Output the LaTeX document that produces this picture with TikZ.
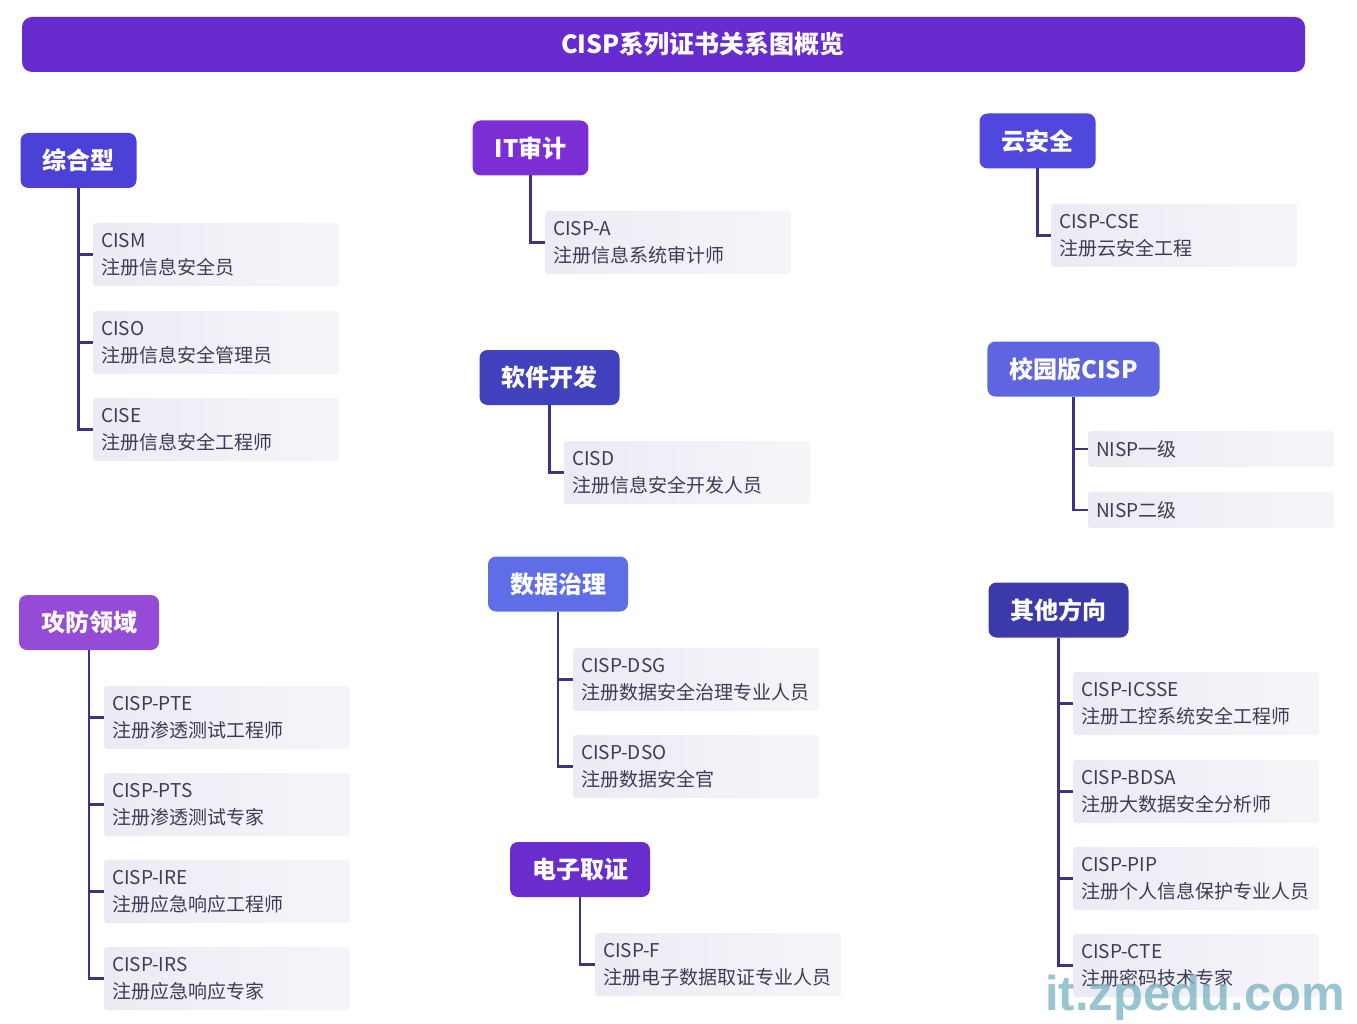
\documentclass[tikz,border=0pt]{standalone}
\usepackage{fontspec}
\setmainfont{Noto Sans CJK SC}
\newfontfamily\markfont{Liberation Sans}
\definecolor{titlebar}{HTML}{672BCF}
\definecolor{catA}{HTML}{4B41D7}
\definecolor{catB}{HTML}{7A2ED4}
\definecolor{catC}{HTML}{5048DC}
\definecolor{catD}{HTML}{4141BE}
\definecolor{catE}{HTML}{5F64E1}
\definecolor{catF}{HTML}{964BD7}
\definecolor{catG}{HTML}{5F6EE6}
\definecolor{catH}{HTML}{692DCD}
\definecolor{catI}{HTML}{3C3AAA}
\definecolor{linkcol}{HTML}{3A3488}
\definecolor{itemtext}{HTML}{3C3C55}
\definecolor{itemleft}{HTML}{ECEBF5}
\definecolor{itemright}{HTML}{F5F5F9}
\definecolor{markcol}{HTML}{7FB5C5}
\tikzset{
  cat/.style={rounded corners=8pt, text=white, font=\fontsize{24}{28}\selectfont\bfseries,
    inner xsep=22pt, minimum height=55pt, outer sep=0pt},
  item/.style={anchor=north west, rounded corners=3pt, left color=itemleft, right color=itemright,
    draw=none, text=itemtext, font=\fontsize{19}{27}\selectfont, align=left,
    minimum width=246pt, text width=230pt, inner xsep=8pt, minimum height=63pt, outer sep=0pt},
  single/.style={item, minimum height=36pt},
  link/.style={draw=linkcol, line width=2.5pt}
}
\begin{document}
\begin{tikzpicture}[x=1pt,y=-1pt]
\useasboundingbox (0,0) rectangle (1357,1024);

% title bar
\node[rounded corners=10pt, fill=titlebar, minimum width=1283pt, minimum height=55pt] (bar) at (663.5,44.5) {};
\node[text=white, font=\fontsize{25}{29}\selectfont\bfseries] (title) at (703,44.5) {CISP系列证书关系图概览};

% categories
\node[cat, fill=catA] (zh) at (78.5,160.5) {综合型};
\node[cat, fill=catB] (it) at (530.5,148) {IT审计};
\node[cat, fill=catC] (yun) at (1037.5,141) {云安全};
\node[cat, fill=catD] (rj) at (549.5,377.5) {软件开发};
\node[cat, fill=catE] (xy) at (1073.5,369) {校园版CISP};
\node[cat, fill=catF] (gf) at (89,622.5) {攻防领域};
\node[cat, fill=catG] (sj) at (558,584) {数据治理};
\node[cat, fill=catH] (dz) at (580,869.5) {电子取证};
\node[cat, fill=catI] (qt) at (1058.5,610) {其他方向};

% certificates
\node[item] (cism) at (93,223) {CISM\\注册信息安全员};
\node[item] (ciso) at (93,311) {CISO\\注册信息安全管理员};
\node[item] (cise) at (93,398) {CISE\\注册信息安全工程师};

\node[item] (cispa) at (545,211) {CISP-A\\注册信息系统审计师};
\node[item] (cisd) at (564,441) {CISD\\注册信息安全开发人员};

\node[item] (cse) at (1051,204) {CISP-CSE\\注册云安全工程};
\node[single] (nisp1) at (1088,431) {NISP一级};
\node[single] (nisp2) at (1088,492) {NISP二级};

\node[item] (pte) at (104,686) {CISP-PTE\\注册渗透测试工程师};
\node[item] (pts) at (104,773) {CISP-PTS\\注册渗透测试专家};
\node[item] (ire) at (104,860) {CISP-IRE\\注册应急响应工程师};
\node[item] (irs) at (104,947) {CISP-IRS\\注册应急响应专家};

\node[item] (dsg) at (573,648) {CISP-DSG\\注册数据安全治理专业人员};
\node[item] (dso) at (573,735) {CISP-DSO\\注册数据安全官};
\node[item] (cispf) at (595,933) {CISP-F\\注册电子数据取证专业人员};

\node[item] (icsse) at (1073,672) {CISP-ICSSE\\注册工控系统安全工程师};
\node[item] (bdsa) at (1073,760) {CISP-BDSA\\注册大数据安全分析师};
\node[item] (pip) at (1073,847) {CISP-PIP\\注册个人信息保护专业人员};
\node[item] (cte) at (1073,934) {CISP-CTE\\注册密码技术专家};

% connectors
\foreach \c/\i in {zh/cism, zh/ciso, zh/cise, it/cispa, rj/cisd, yun/cse, xy/nisp1, xy/nisp2,
  gf/pte, gf/pts, gf/ire, gf/irs, sj/dsg, sj/dso, dz/cispf, qt/icsse, qt/bdsa, qt/pip, qt/cte}
  \draw[link] (\c.south) |- (\i.west);

% watermark
\node[text=markcol, opacity=0.8, font=\markfont\fontsize{49}{49}\selectfont\bfseries, inner sep=0pt]
  (mark) at (1195,998) {it.zpedu.com};
\end{tikzpicture}
\end{document}
